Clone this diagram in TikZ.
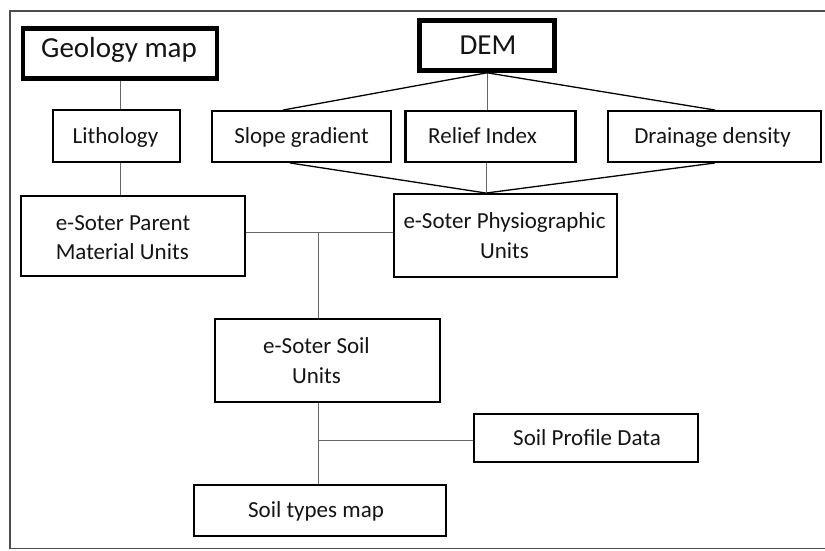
\documentclass[tikz,border=0pt]{standalone}
\usepackage{fontspec}
\setmainfont{Carlito}
\begin{document}
\begin{tikzpicture}[x=1pt,y=-1pt,
  box/.style={draw=black, line width=2.4pt, rectangle, inner sep=0pt},
  titlebox/.style={box, line width=4.6pt},
  txt/.style={font=\fontsize{23}{29.5}\selectfont, text=black!92, inner sep=0pt, align=center},
  one/.style={font=\fontsize{23}{29.5}\selectfont, text=black!92, inner sep=0pt, text height=16.6pt, text depth=1.8pt},
  big/.style={font=\fontsize{29}{34}\selectfont, text=black!92, inner sep=0pt, text height=20.9pt, text depth=2.3pt},
  link/.style={draw=black!60, line width=1pt},
  slant/.style={draw=black, line width=1.3pt}]
\useasboundingbox (0,0) rectangle (825,551);
\draw[line width=1.3pt, draw=black!70] (830,11) -- (10,11) -- (10,548.5) -- (830,548.5);

% boxes
\node[titlebox, minimum width=194pt, minimum height=50pt,
  label={[big, xshift=-1pt, yshift=5pt]center:Geology map}] (geo) at (120,53.5) {};
\node[titlebox, minimum width=135pt, minimum height=50pt,
  label={[big, xshift=1pt]center:DEM}] (dem) at (487,45.5) {};
\node[box, minimum width=126.5pt, minimum height=51.5pt,
  label={[one, xshift=-1pt]center:Lithology}] (lith) at (116.5,136) {};
\node[box, minimum width=179.5pt, minimum height=50.5pt,
  label={[one]center:Slope gradient}] (slope) at (301.5,136.5) {};
\node[box, minimum width=170pt, minimum height=50.5pt,
  label={[one, xshift=-8pt]center:Relief Index}] (relief) at (490.5,136.5) {};
\node[box, minimum width=212.5pt, minimum height=50.5pt,
  label={[one, xshift=-2pt]center:Drainage density}] (drain) at (714.5,136.5) {};
\node[box, minimum width=223.5pt, minimum height=79.5pt,
  label={[txt, align=left, xshift=-10pt, yshift=-1.5pt]center:e-Soter Parent\\Material Units}] (parent) at (133,236) {};
\node[box, minimum width=222.5pt, minimum height=82.5pt,
  label={[txt, xshift=-1pt]center:e-Soter Physiographic\\Units}] (physio) at (505.5,235.5) {};
\node[box, minimum width=224.5pt, minimum height=82.5pt,
  label={[txt, xshift=-11pt]center:e-Soter Soil\\Units}] (soil) at (327.5,360.5) {};
\node[box, minimum width=223.5pt, minimum height=47.5pt,
  label={[one, xshift=1pt]center:Soil Profile Data}] (profile) at (586,438) {};
\node[box, minimum width=251.5pt, minimum height=50.5pt,
  label={[one, xshift=-4pt]center:Soil types map}] (types) at (320,510.5) {};

% connectors
\draw[link] (geo.south) -- (geo.south |- lith.north);
\draw[link] (geo.south |- lith.south) -- (geo.south |- parent.north);
\draw[link] (dem.south) -- (dem.south |- relief.north);
\draw[slant] (dem.south) -- ([xshift=-18.5pt]slope.north);
\draw[slant] (dem.south) -- ([xshift=0.5pt]drain.north);
\coordinate (pt) at ([xshift=-19.5pt]physio.north);
\draw[slant] ([xshift=-11.5pt]slope.south) -- (pt);
\draw[slant] ([xshift=0.5pt]drain.south) -- (pt);
\draw[link] (relief.south -| pt) -- (pt);
\coordinate (j1) at (318,232);
\draw[link] (parent.east |- j1) -- (physio.west |- j1);
\draw[link] (j1) -- (j1 |- soil.north);
\coordinate (j2) at (318,440);
\draw[link] (j1 |- soil.south) -- (j1 |- types.north);
\draw[link] (j2) -- (j2 -| profile.west);
\end{tikzpicture}
\end{document}
